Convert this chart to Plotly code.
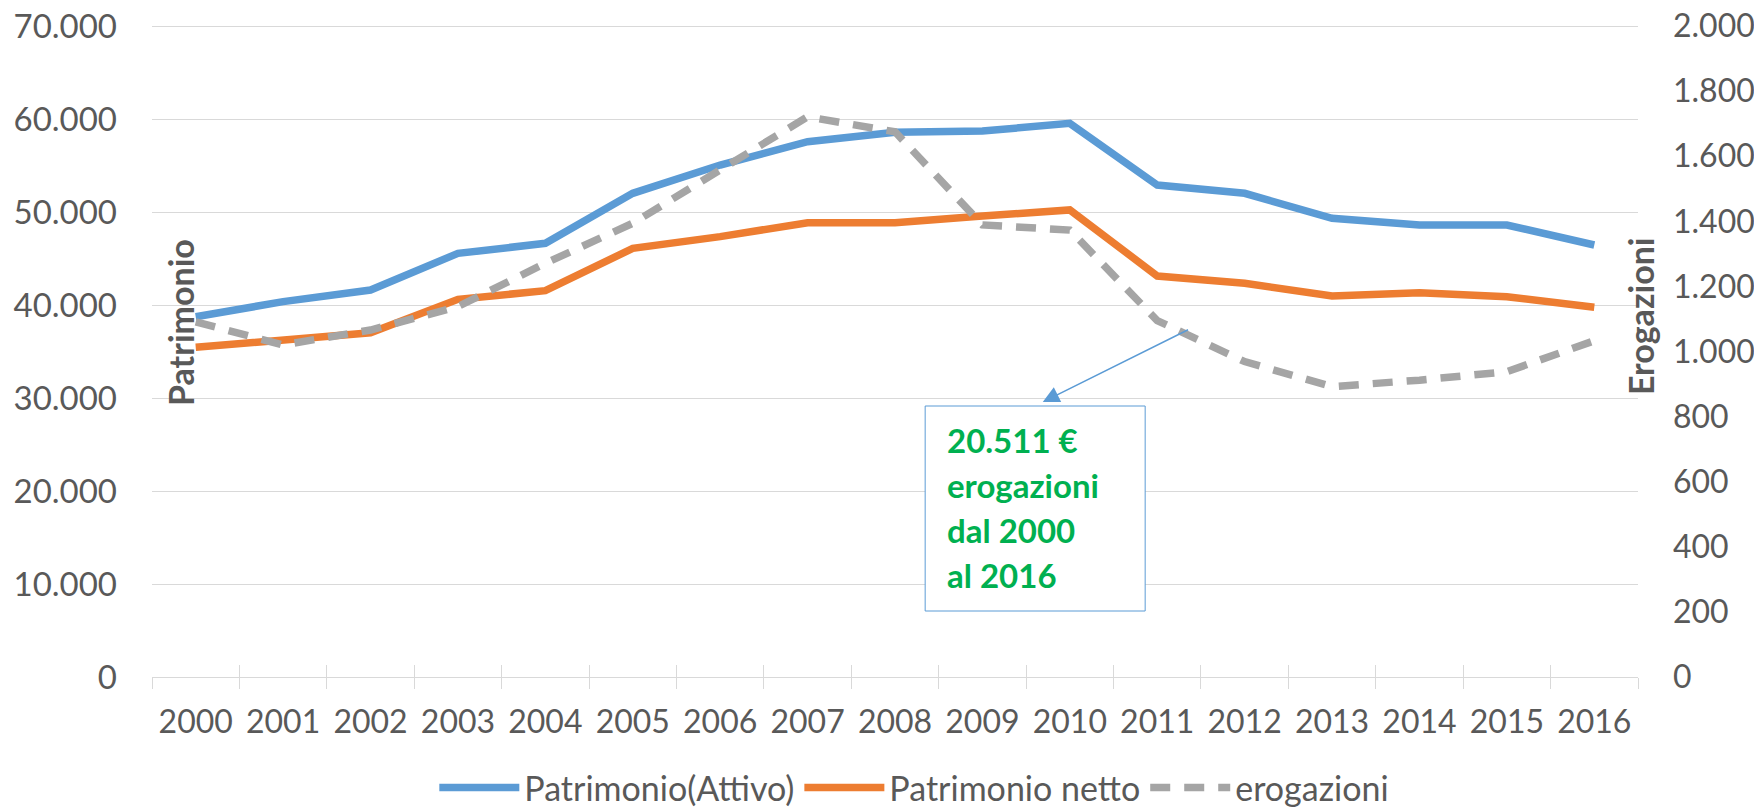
import plotly.graph_objects as go

# ---- data ----
years = [str(y) for y in range(2000, 2017)]
patrimonio_attivo = [38740, 40360, 41610, 45550, 46630, 52010, 55050, 57560, 58570,
                     58710, 59530, 52900, 52010, 49320, 48600, 48600, 46450]
patrimonio_netto = [35450, 36310, 37020, 40610, 41540, 46090, 47350, 48850, 48850,
                    49570, 50220, 43120, 42330, 40970, 41330, 40890, 39750]
erogazioni = [1091, 1020, 1066, 1138, 1271, 1394, 1558, 1721, 1675,
              1389, 1373, 1095, 969, 892, 912, 938, 1033]

left_tickvals = [0, 10000, 20000, 30000, 40000, 50000, 60000, 70000]
left_ticktext = ["0", "10.000", "20.000", "30.000", "40.000", "50.000", "60.000", "70.000"]
right_tickvals = [0, 200, 400, 600, 800, 1000, 1200, 1400, 1600, 1800, 2000]
right_ticktext = ["0", "200", "400", "600", "800", "1.000", "1.200", "1.400", "1.600", "1.800", "2.000"]

box_lines = ["20.511 €", "erogazioni", "dal 2000", "al 2016"]

FONT = "Lato, 'Open Sans', sans-serif"
GREY_TXT = "#595959"
GRID = "#D9D9D9"
BLUE = "#5B9BD5"
ORANGE = "#ED7D31"
GREY = "#A5A5A5"
GREEN = "#00B050"

# plot area: 651 px for 0..70000; 2 extra px on top so the top gridline is not clipped
PLOT_H = 651
EXTRA = 2
Y1_MAX = 70000 * (PLOT_H + EXTRA) / PLOT_H
Y2_MAX = 2000 * (PLOT_H + EXTRA) / PLOT_H

fig = go.Figure()
fig.add_trace(go.Scatter(x=years, y=patrimonio_attivo, name="Patrimonio(Attivo)",
                         mode="lines", line=dict(color=BLUE, width=7.5)))
fig.add_trace(go.Scatter(x=years, y=patrimonio_netto, name="Patrimonio netto",
                         mode="lines", line=dict(color=ORANGE, width=7.5)))
fig.add_trace(go.Scatter(x=years, y=erogazioni, name="erogazioni", xaxis="x2", yaxis="y2",
                         mode="lines", line=dict(color=GREY, width=7.5, dash="20px,14px")))

# the page body adds an 8px margin, so the figure is 8px smaller than the window
fig.update_layout(
    width=1754, height=799,
    margin=dict(l=144, r=124, t=18 - EXTRA, b=130, autoexpand=False),
    paper_bgcolor="white", plot_bgcolor="white",
    font=dict(family=FONT, size=32, color=GREY_TXT),
    showlegend=True,
    legend=dict(orientation="h", x=0.513, xanchor="center",
                yref="container", y=0.024, yanchor="middle",
                font=dict(size=34, color=GREY_TXT), itemwidth=80, traceorder="normal"),
    xaxis=dict(type="category", categoryorder="array", categoryarray=years,
               range=[-0.5, 16.5], tickson="boundaries", ticks="outside", ticklen=11,
               tickcolor=GRID, tickwidth=1, showgrid=False, showline=True,
               linecolor=GRID, linewidth=1, zeroline=False, automargin=False,
               tickfont=dict(size=32, color=GREY_TXT), ticklabelstandoff=17),
    xaxis2=dict(type="category", categoryorder="array", categoryarray=years,
                overlaying="x", anchor="y2", side="bottom", automargin=False,
                range=[-0.5, 16.5], tickson="boundaries", ticks="inside", ticklen=12,
                tickcolor=GRID, tickwidth=1, showgrid=False, showline=False,
                showticklabels=False, zeroline=False),
    yaxis=dict(range=[0, Y1_MAX], tickvals=left_tickvals, ticktext=left_ticktext,
               showgrid=True, gridcolor=GRID, gridwidth=1, zeroline=False,
               showline=False, ticks="", automargin=False, ticklabeloverflow="allow",
               tickfont=dict(size=33, color=GREY_TXT), ticklabelstandoff=34),
    yaxis2=dict(range=[0, Y2_MAX], tickvals=right_tickvals, ticktext=right_ticktext,
                overlaying="y", side="right", anchor="x2", showgrid=False,
                zeroline=False, showline=False, ticks="", automargin=False,
                ticklabeloverflow="allow",
                tickfont=dict(size=32, color=GREY_TXT), ticklabelstandoff=34),
)

# axis titles (positioned as in the original, inside the plot edges)
fig.add_annotation(text="<b>Patrimonio</b>", xref="paper", yref="y",
                   x=0.0188, y=38170, textangle=-90, showarrow=False,
                   font=dict(size=34, color=GREY_TXT, family=FONT),
                   xanchor="center", yanchor="middle")
fig.add_annotation(text="<b>Erogazioni</b>", xref="paper", yref="y",
                   x=1.0013, y=38800, textangle=-90, showarrow=False,
                   font=dict(size=34, color=GREY_TXT, family=FONT),
                   xanchor="center", yanchor="middle")

# callout box
fig.add_shape(type="rect", xref="x", yref="y", x0=8.345, x1=10.862, y0=7097, y1=29140,
              line=dict(color=BLUE, width=1), fillcolor="white", layer="above")
line_y = [25484, 20645, 15806, 10968]
for txt, yy in zip(box_lines, line_y):
    fig.add_annotation(text="<b>" + txt + "</b>", xref="x", yref="y", x=8.574, y=yy,
                       xanchor="left", yanchor="middle", showarrow=False,
                       font=dict(size=33, color=GREEN, family=FONT))

# arrow to the callout
fig.add_annotation(text="", xref="x", yref="y", x=9.69, y=29570,
                   axref="x", ayref="y", ax=11.37, ay=37420,
                   showarrow=True, arrowhead=2, arrowsize=2.2, arrowwidth=1.5,
                   arrowcolor=BLUE, standoff=0, startstandoff=0)

fig.write_html("out.html")
